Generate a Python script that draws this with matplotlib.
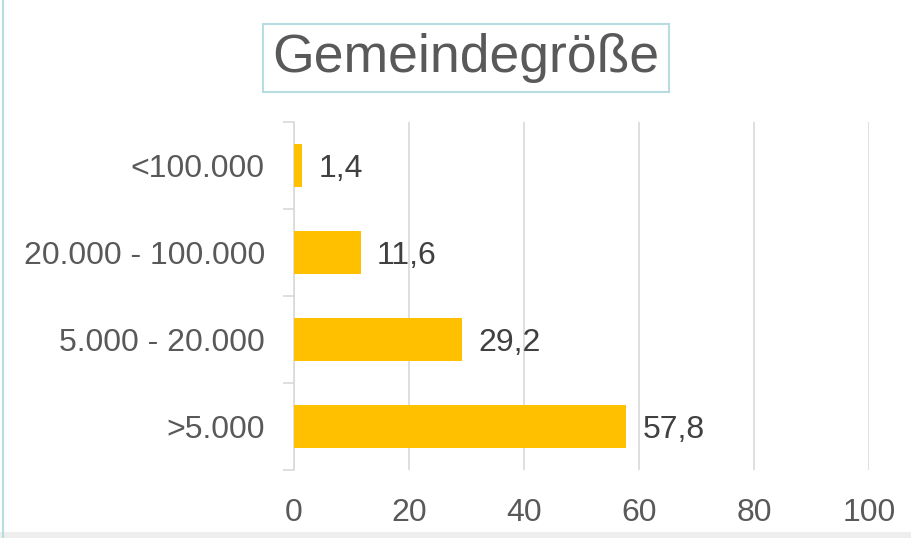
import matplotlib
matplotlib.use('Agg')
import matplotlib.pyplot as plt
from matplotlib.lines import Line2D
from matplotlib.patches import Rectangle

plt.rcParams['font.family'] = ['Liberation Sans', 'DejaVu Sans']

categories = ['<100.000', '20.000 - 100.000', '5.000 - 20.000', '>5.000']
values = [1.4, 11.6, 29.2, 57.8]
value_labels = ['1,4', '11,6', '29,2', '57,8']
x_ticks = [0, 20, 40, 60, 80, 100]

fig = plt.figure(figsize=(9.11, 5.38), dpi=100)
ax = fig.add_axes([294 / 911, 1 - 470 / 538, 575 / 911, 348 / 538])

pos = list(range(len(categories)))
ax.barh(pos, values, height=0.5, color='#FFC000', zorder=3)
for p, v, lab in zip(pos, values, value_labels):
    ax.text(v + 2.8, p + 0.04, lab, va='center', ha='left', fontsize=23, color='#404040')

ax.set_xlim(0, 100)
ax.set_ylim(len(categories) - 0.5, -0.5)
ax.set_xticks(x_ticks)
ax.set_xticklabels([str(t) for t in x_ticks], fontsize=23, color='#595959')
ax.set_yticks(pos)
ax.set_yticklabels(categories, fontsize=23, color='#595959')
ax.set_yticks([i - 0.5 for i in range(len(categories) + 1)], minor=True)
ax.tick_params(axis='y', which='major', length=0, pad=21)
ax.tick_params(axis='y', which='minor', length=8, color='#D9D9D9', width=1.2)
ax.tick_params(axis='x', length=0, pad=20)
ax.grid(axis='x', color='#D9D9D9', linewidth=1.2, zorder=0)
for s in ['top', 'right', 'bottom']:
    ax.spines[s].set_visible(False)
ax.spines['left'].set_color('#D9D9D9')
ax.spines['left'].set_linewidth(1.2)

# title in a box
fig.text(466 / 911, 1 - 58 / 538, 'Gemeindegröße', ha='center', va='center',
         fontsize=38.5, color='#595959',
         bbox=dict(boxstyle='square,pad=0.17', facecolor='white',
                   edgecolor='#B7DDE3', linewidth=1.5))

# frame pieces
fig.add_artist(Line2D([3 / 911, 3 / 911], [0, 1], color='#B7DDE3', linewidth=1.5))
fig.add_artist(Rectangle((0, 0), 1, 6 / 538, facecolor='#EEEEEE', edgecolor='none'))

fig.savefig('out.png', dpi=100)
